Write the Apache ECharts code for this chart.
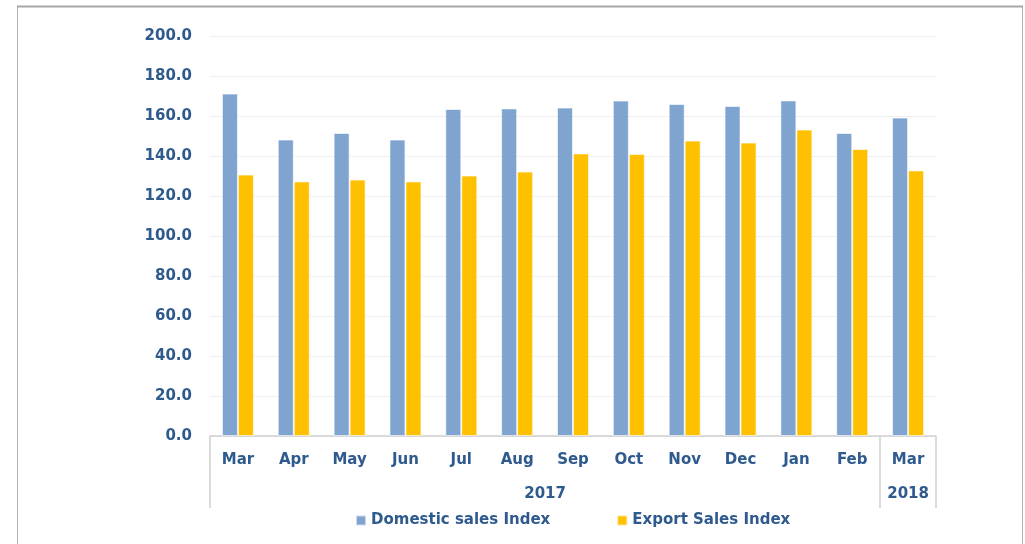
<!DOCTYPE html>
<html>
<head>
<meta charset="utf-8">
<script src="https://cdn.jsdelivr.net/npm/echarts@6/dist/echarts.min.js"></script>
<style>
html,body{margin:0;padding:0;background:#fff;}
#chart{width:1025px;height:544px;}
</style>
</head>
<body>
<div id="chart"></div>
<script>
const months = ['Mar','Apr','May','Jun','Jul','Aug','Sep','Oct','Nov','Dec','Jan','Feb','Mar'];
const years = ['2017','2018'];
const yearSpans = [12, 1];
const domestic = [171.2,148.2,151.5,148.2,163.5,163.8,164.2,167.7,166.0,165.0,167.8,151.5,159.2];
const exportIdx = [130.7,127.3,128.2,127.3,130.2,132.2,141.3,141.0,147.7,146.7,153.2,143.5,132.8];
const seriesNames = ['Domestic sales Index','Export Sales Index'];

const yearBounds = [];
const yearCenters = [];
let acc = 0;
yearSpans.forEach(s => { yearCenters.push(acc + s / 2); acc += s; yearBounds.push(acc); });

const textColor = '#2e5a8e';
const font = {fontFamily: '"DejaVu Sans", sans-serif', fontWeight: 'bold', fontSize: 15, color: textColor};

const chart = echarts.init(document.getElementById('chart'));
chart.setOption({
  animation: false,
  backgroundColor: '#fff',
  graphic: [{
    type: 'rect', shape: {x: 17.5, y: 6.5, width: 1005, height: 560},
    style: {fill: 'none', stroke: '#b4b4b4', lineWidth: 1}, silent: true
  }, {
    type: 'line', shape: {x1: 17, y1: 6.5, x2: 1023, y2: 6.5},
    style: {stroke: '#a6a6a6', lineWidth: 2}, silent: true
  }],
  grid: {left: 210, right: 89, top: 36, bottom: 108},
  legend: {
    left: 350, top: 508,
    icon: 'rect', itemWidth: 10, itemHeight: 10, itemGap: 66,
    textStyle: Object.assign({}, font),
    data: seriesNames
  },
  xAxis: [{
    type: 'category',
    data: months,
    axisLine: {show: true, lineStyle: {color: '#d0d0d0', width: 1.5}},
    axisTick: {
      show: true, length: 72, lineStyle: {color: '#d0d0d0', width: 1.5},
      interval: function (index) { return index === 0 || yearBounds.indexOf(index) !== -1; }
    },
    axisLabel: Object.assign({}, font, {margin: 17, interval: 0})
  }, {
    type: 'value',
    position: 'bottom',
    offset: 40,
    min: 0, max: months.length,
    axisLine: {show: false},
    axisTick: {show: false},
    splitLine: {show: false},
    axisLabel: Object.assign({}, font, {
      margin: 11,
      customValues: yearCenters,
      formatter: function (v) { const i = yearCenters.indexOf(v); return i >= 0 ? years[i] : ''; }
    })
  }],
  yAxis: {
    type: 'value', min: 0, max: 200, interval: 20,
    axisLine: {show: false}, axisTick: {show: false},
    splitLine: {lineStyle: {color: '#efefef', width: 1}},
    axisLabel: Object.assign({}, font, {margin: 18, formatter: v => v.toFixed(1)})
  },
  series: [{
    name: seriesNames[0], type: 'bar', data: domestic,
    barWidth: 16, barGap: '0%',
    itemStyle: {color: '#7fa4d0', borderColor: 'rgba(255,255,255,0.6)', borderWidth: 1}
  }, {
    name: seriesNames[1], type: 'bar', data: exportIdx,
    barWidth: 16, barGap: '0%',
    itemStyle: {color: '#ffc000', borderColor: 'rgba(255,255,255,0.6)', borderWidth: 1}
  }]
});
</script>
</body>
</html>
